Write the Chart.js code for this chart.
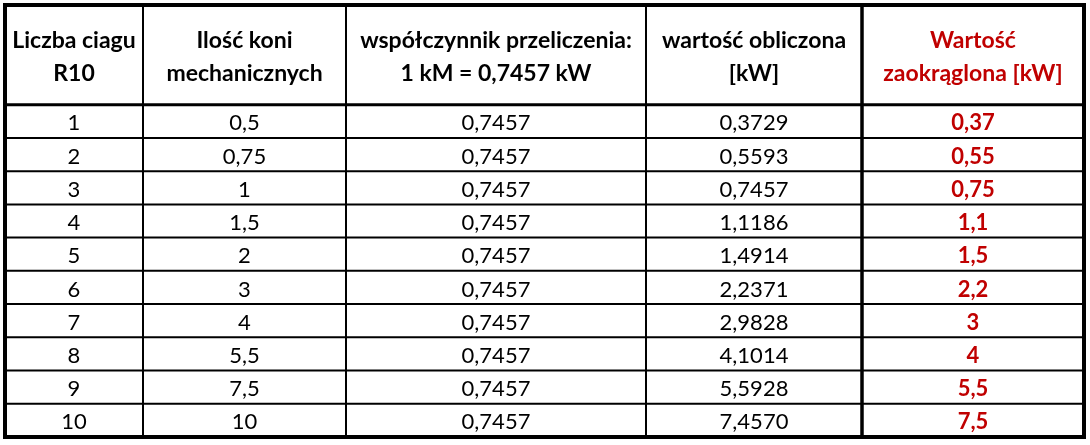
<!DOCTYPE html>
<html>
<head>
<meta charset="utf-8">
<script src="https://cdn.jsdelivr.net/npm/chart.js@4"></script>
<style>
  html, body { margin: 0; padding: 0; background: #fff; }
  #wrap { width: 1090px; height: 445px; }
</style>
</head>
<body>
<div id="wrap"><canvas id="table" width="1090" height="445"></canvas></div>
<script>
// data
const headers = [
  ["Liczba ciagu", "R10"],
  ["Ilość koni", "mechanicznych"],
  ["współczynnik przeliczenia:", "1 kM = 0,7457 kW"],
  ["wartość obliczona", "[kW]"],
  ["Wartość", "zaokrąglona [kW]"]
];
const r10 = [1, 2, 3, 4, 5, 6, 7, 8, 9, 10];
const hp = [0.5, 0.75, 1, 1.5, 2, 3, 4, 5.5, 7.5, 10];
const factor = [0.7457, 0.7457, 0.7457, 0.7457, 0.7457, 0.7457, 0.7457, 0.7457, 0.7457, 0.7457];
const computed = [0.3729, 0.5593, 0.7457, 1.1186, 1.4914, 2.2371, 2.9828, 4.1014, 5.5928, 7.4570];
const rounded = [0.37, 0.55, 0.75, 1.1, 1.5, 2.2, 3, 4, 5.5, 7.5];

// layout
const colWidths = [138, 203, 300, 216, 222];
const headerRows = 3;
const red = "#C00000";
const fontFamily = "Lato, 'Liberation Sans', sans-serif";

const comma = v => String(v).replace(".", ",");
const columns = [
  r10.map(String),
  hp.map(comma),
  factor.map(v => comma(v.toFixed(4))),
  computed.map(v => comma(v.toFixed(4))),
  rounded.map(comma)
];

const colEdges = [0];
colWidths.forEach(w => colEdges.push(colEdges[colEdges.length - 1] + w));
const colCenter = i => (colEdges[i] + colEdges[i + 1]) / 2;
const nRows = r10.length;

// one point per cell, text drawn at the point
const cells = [];
headers.forEach((h, c) => cells.push({ x: colCenter(c), y: headerRows / 2, lines: h, head: true, col: c }));
columns.forEach((vals, c) => vals.forEach((v, r) => {
  cells.push({ x: colCenter(c), y: headerRows + r + 0.5, lines: [v], head: false, col: c });
}));

const tablePlugin = {
  id: "tableGrid",
  afterDatasetsDraw(chart) {
    const ctx = chart.ctx;
    const meta = chart.getDatasetMeta(0);
    ctx.save();
    ctx.textAlign = "center";
    ctx.textBaseline = "middle";
    meta.data.forEach((pt, i) => {
      const cell = cells[i];
      const bold = cell.head || cell.col === 4;
      ctx.font = (bold ? "bold " : "") + (cell.head ? "23px " : "22px ") + fontFamily;
      ctx.fillStyle = cell.col === 4 ? red : "#000";
      const lh = 33;
      const y0 = pt.y + 2 - (cell.lines.length - 1) * lh / 2;
      cell.lines.forEach((t, k) => ctx.fillText(t, pt.x, y0 + k * lh));
    });
    ctx.restore();
  },
  afterDraw(chart) {
    const { ctx, scales: { x, y } } = chart;
    const left = x.getPixelForValue(colEdges[0]);
    const right = x.getPixelForValue(colEdges[colEdges.length - 1]);
    const top = y.getPixelForValue(0);
    const bottom = y.getPixelForValue(headerRows + nRows);
    ctx.save();
    ctx.strokeStyle = "#000";
    const line = (x1, y1, x2, y2, w) => {
      ctx.lineWidth = w;
      ctx.beginPath();
      ctx.moveTo(x1, y1);
      ctx.lineTo(x2, y2);
      ctx.stroke();
    };
    for (let r = 1; r < nRows; r++) {
      const py = y.getPixelForValue(headerRows + r);
      line(left, py, right, py, 2);
    }
    for (let c = 1; c < colEdges.length - 1; c++) {
      const px = x.getPixelForValue(colEdges[c]);
      line(px, top, px, bottom, c === 4 ? 3.5 : 2);
    }
    const hy = y.getPixelForValue(headerRows);
    line(left, hy, right, hy, 3);
    ctx.lineWidth = 4;
    ctx.strokeRect(left, top, right - left, bottom - top);
    ctx.restore();
  }
};

new Chart(document.getElementById("table"), {
  type: "scatter",
  data: {
    datasets: [{
      data: cells.map(c => ({ x: c.x, y: c.y })),
      pointRadius: 0,
      pointHoverRadius: 0
    }]
  },
  options: {
    responsive: false,
    devicePixelRatio: 1,
    animation: false,
    events: [],
    layout: { padding: { left: 5, right: 6, top: 5, bottom: 8 } },
    plugins: { legend: { display: false }, tooltip: { enabled: false } },
    scales: {
      x: { type: "linear", display: false, min: 0, max: colEdges[colEdges.length - 1] },
      y: { type: "linear", display: false, reverse: true, min: 0, max: headerRows + nRows }
    }
  },
  plugins: [tablePlugin]
});
</script>
</body>
</html>
